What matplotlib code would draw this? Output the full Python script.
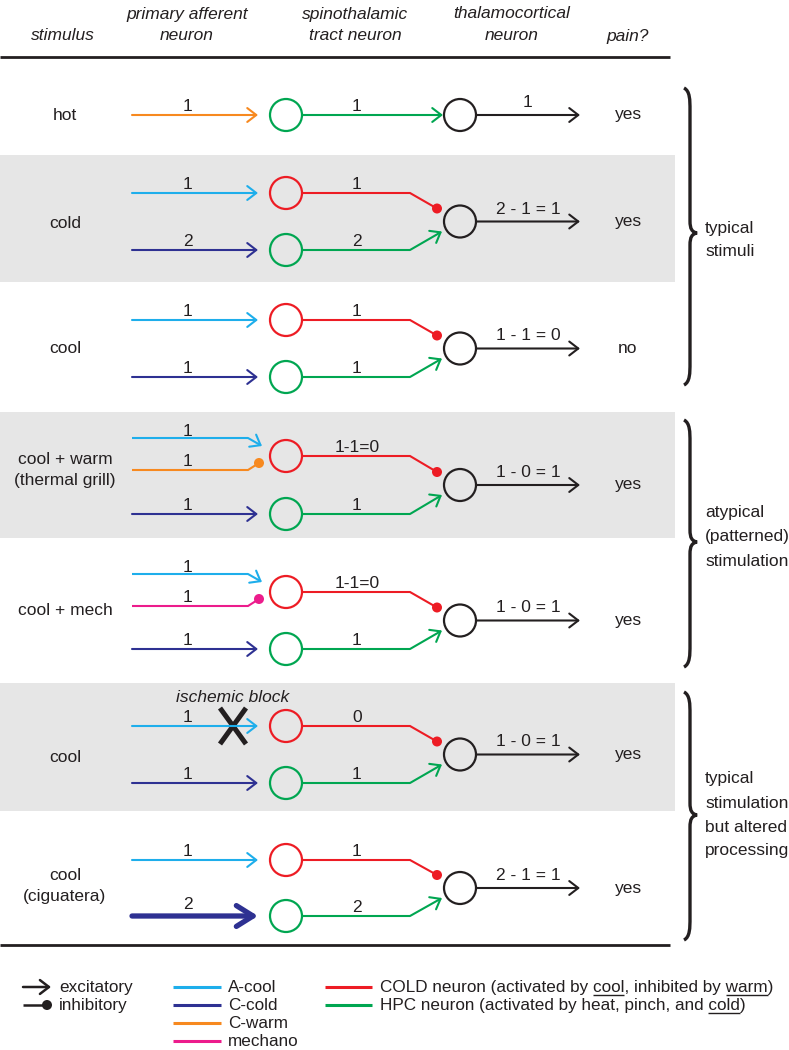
import matplotlib
matplotlib.use('Agg')
import matplotlib.pyplot as plt
from matplotlib.patches import Circle, Rectangle, PathPatch
from matplotlib.path import Path

# ---- content of the diagram ----
headers = ['stimulus', 'primary afferent\nneuron', 'spinothalamic\ntract neuron',
           'thalamocortical\nneuron', 'pain?']
stimuli = ['hot', 'cold', 'cool', 'cool + warm\n(thermal grill)', 'cool + mech',
           'cool', 'cool\n(ciguatera)']
cool_fiber_input = [None, '1', '1', '1', '1', '1', '1']           # A-cool -> COLD cell
lower_fiber = ['C-warm', 'C-cold', 'C-cold', 'C-cold', 'C-cold', 'C-cold', 'C-cold']
lower_fiber_input = ['1', '2', '1', '1', '1', '1', '2']            # -> HPC cell
inhib_fiber = [None, None, None, 'C-warm', 'mechano', None, None]  # inhibits COLD cell
inhib_fiber_input = [None, None, None, '1', '1', None, None]
cold_cell_output = [None, '1', '1', '1-1=0', '1-1=0', '0', '1']
hpc_cell_output = ['1', '2', '1', '1', '1', '1', '2']
thalamic_output = ['1', '2 - 1 = 1', '1 - 1 = 0', '1 - 0 = 1', '1 - 0 = 1',
                   '1 - 0 = 1', '2 - 1 = 1']
pain = ['yes', 'yes', 'no', 'yes', 'yes', 'yes', 'yes']
ischemic_block = [False, False, False, False, False, True, False]
boosted_input = [False, False, False, False, False, False, True]

groups = ['typical\nstimuli', 'atypical\n(patterned)\nstimulation',
          'typical\nstimulation\nbut altered\nprocessing']

synapse_types = ['excitatory', 'inhibitory']
fiber_types = ['A-cool', 'C-cold', 'C-warm', 'mechano']
stt_types = ['COLD neuron (activated by cool, inhibited by warm)',
             'HPC neuron (activated by heat, pinch, and cold)']
stt_underlined = [['cool', 'warm'], ['cold']]

# ---- colours ----
INK = '#231F20'
FIBER_COL = {'A-cool': '#1EAEEB', 'C-cold': '#2E3192', 'C-warm': '#F7891F',
             'mechano': '#EC1C8C'}
COLD_COL = '#ED1C24'
HPC_COL = '#00A651'
BAND = '#E6E6E6'

# ---- layout (pixels, y downwards) ----
red_y = [None, 193, 320, 456, 592, 726, 860]
green_y = [115, 250, 377, 514, 649, 783, 916]
stim_dy = [0, 2, 0, -15, -10, 3, -2]
bands = [(155, 282), (412, 538), (683, 811)]
brace_span = [(88, 385, 233), (420, 667, 542), (692, 940, 815)]
brace_text_y = [240, 537, 815]

X_AFF0, X_AFF1 = 132, 258
X_STT, X_THAL, R = 286, 460, 16
X_BEND = 410
FS = 12.5
LFS = 12.3
BODY = ['Liberation Sans', 'DejaVu Sans']

fig = plt.figure(figsize=(7.89, 10.5), dpi=100)
ax = fig.add_axes([0, 0, 1, 1])
ax.set_xlim(0, 789)
ax.set_ylim(1050, 0)
ax.axis('off')


def arrow(p0, p1, color, lw=1.5, hl=0.65, hw=0.5):
    ax.annotate('', xy=p1, xytext=p0,
                arrowprops=dict(arrowstyle=f'->,head_length={hl},head_width={hw}',
                                color=color, lw=lw, shrinkA=0, shrinkB=0))


def line(xs, ys, color, lw=1.5):
    ax.plot(xs, ys, color=color, lw=lw, solid_capstyle='butt', solid_joinstyle='miter')


def dot(x, y, color, r=5):
    ax.add_patch(Circle((x, y), r, facecolor=color, edgecolor='none', zorder=4))


def cell(x, y, color):
    ax.add_patch(Circle((x, y), R, facecolor='none', edgecolor=color, lw=1.6, zorder=3))


def label(x, y, s):
    ax.text(x, y, s, fontsize=FS, family=BODY, color=INK, ha='center', va='baseline')


def brace(x0, y0, y1, ym, w=7):
    xb = x0 + 6
    verts = [(x0, y0), (xb, y0 + 3), (xb, y0 + 12), (xb, y0 + 22),
             (xb, ym - 12),
             (xb, ym - 4), (xb + 2, ym - 1), (xb + w, ym),
             (xb + 2, ym + 1), (xb, ym + 4), (xb, ym + 12),
             (xb, y1 - 22),
             (xb, y1 - 12), (xb, y1 - 3), (x0, y1)]
    codes = [Path.MOVETO, Path.CURVE4, Path.CURVE4, Path.CURVE4, Path.LINETO,
             Path.CURVE4, Path.CURVE4, Path.CURVE4,
             Path.CURVE4, Path.CURVE4, Path.CURVE4, Path.LINETO,
             Path.CURVE4, Path.CURVE4, Path.CURVE4]
    ax.add_patch(PathPatch(Path(verts, codes), facecolor='none', edgecolor=INK, lw=2.4))


# shaded rows
for y0, y1 in bands:
    ax.add_patch(Rectangle((0, y0), 675, y1 - y0, facecolor=BAND, edgecolor='none', zorder=0))

# header
hx = [63, 187, 355, 512, 628]
for x, h in zip(hx, headers):
    parts = h.split('\n')
    ys = [36] if len(parts) == 1 else [14, 36]
    for y, p in zip(ys, parts):
        ax.text(x, y, p, fontsize=FS, family=BODY, style='italic', color=INK,
                ha='center', va='center')
line([0, 670], [57, 57], INK, lw=2)
line([0, 670], [945, 945], INK, lw=2)

# rows
for i in range(len(stimuli)):
    gy = green_y[i]
    ry = red_y[i]
    by = gy if ry is None else (ry + gy) / 2

    # stimulus name
    parts = stimuli[i].split('\n')
    off = [0] if len(parts) == 1 else [-10, 10]
    for o, p in zip(off, parts):
        ax.text(65, by + stim_dy[i] + o, p, fontsize=FS, family=BODY, color=INK,
                ha='center', va='center')

    # lower fiber -> HPC cell
    if boosted_input[i]:
        arrow((X_AFF0, gy), (X_AFF1, gy), FIBER_COL[lower_fiber[i]], lw=3.8, hl=1.2, hw=0.75)
        label(188, gy - 7, lower_fiber_input[i])
    else:
        arrow((X_AFF0, gy), (X_AFF1, gy), FIBER_COL[lower_fiber[i]])
        label(188, gy - 4, lower_fiber_input[i])
    cell(X_STT, gy, HPC_COL)
    label(357, gy - 4, hpc_cell_output[i])

    if ry is None:
        arrow((X_STT + R, gy), (X_THAL - R - 1, gy), HPC_COL)
    else:
        # upper fiber -> COLD cell
        ccol = FIBER_COL['A-cool']
        if inhib_fiber[i] is not None:
            ay, iy = ry - 18, ry + 14
            line([X_AFF0, 248], [ay, ay], ccol)
            arrow((248, ay), (262, ry - 10), ccol)
            label(188, ay - 2, cool_fiber_input[i])
            icol = FIBER_COL[inhib_fiber[i]]
            line([X_AFF0, 248, 259], [iy, iy, ry + 7], icol)
            dot(259, ry + 7, icol)
            label(188, iy - 4, inhib_fiber_input[i])
        else:
            arrow((X_AFF0, ry), (X_AFF1, ry), ccol)
            label(188, ry - 4, cool_fiber_input[i])
        cell(X_STT, ry, COLD_COL)
        label(357, ry - 4, cold_cell_output[i])
        line([X_STT + R, X_BEND, 437], [ry, ry, by - 13], COLD_COL)
        dot(437, by - 13, COLD_COL)
        line([X_STT + R, X_BEND], [gy, gy], HPC_COL)
        arrow((X_BEND, gy), (442, by + 10), HPC_COL)

    if ischemic_block[i]:
        ax.text(233, ry - 29, 'ischemic block', fontsize=FS, family=BODY, style='italic',
                color=INK, ha='center', va='center')
        line([220, 246], [ry - 18, ry + 18], INK, lw=3.6)
        line([246, 220], [ry - 18, ry + 18], INK, lw=3.6)

    # thalamocortical cell and output
    cell(X_THAL, by, INK)
    arrow((X_THAL + R, by), (580, by), INK)
    label(528, by - 8, thalamic_output[i])
    ax.text(628, by, pain[i], fontsize=FS, family=BODY, color=INK, ha='center', va='center')

# braces and group labels
for name, (y0, y1, ym), ty in zip(groups, brace_span, brace_text_y):
    brace(684, y0, y1, ym)
    parts = name.split('\n')
    n = len(parts)
    for k, p in zip(range(n), parts):
        ax.text(705, ty + (k - (n - 1) / 2) * 24, p, fontsize=FS, family=BODY, color=INK,
                ha='left', va='center')

# legend
leg_y = [987, 1005, 1023, 1041]
arrow((23, leg_y[0]), (51, leg_y[0]), INK, lw=1.8)
line([23, 44], [leg_y[1], leg_y[1]], INK, lw=1.8)
dot(47, leg_y[1], INK, r=5)
for y, s in zip(leg_y, synapse_types):
    ax.text(59, y + 5, s, fontsize=LFS, family=BODY, color=INK, ha='left', va='baseline')
for y, s in zip(leg_y, fiber_types):
    line([173, 221], [y, y], FIBER_COL[s], lw=2.2)
    ax.text(228, y + 5, s, fontsize=LFS, family=BODY, color=INK, ha='left', va='baseline')

renderer = fig.canvas.get_renderer()


def text_width(s):
    t = ax.text(0, 0, s, fontsize=LFS, family=BODY)
    w = t.get_window_extent(renderer).width
    t.remove()
    return w


for y, s, col, words in zip(leg_y, stt_types, [COLD_COL, HPC_COL], stt_underlined):
    line([325, 372], [y, y], col, lw=2.2)
    ax.text(380, y + 5, s, fontsize=LFS, family=BODY, color=INK, ha='left', va='baseline')
    for wd in words:
        idx = s.index(wd)
        end = 380 + text_width(s[:idx + len(wd)])
        start = end - text_width(wd)
        line([start, end], [y + 7.5, y + 7.5], INK, lw=1.0)

fig.savefig('out.png', dpi=100, facecolor='white')
